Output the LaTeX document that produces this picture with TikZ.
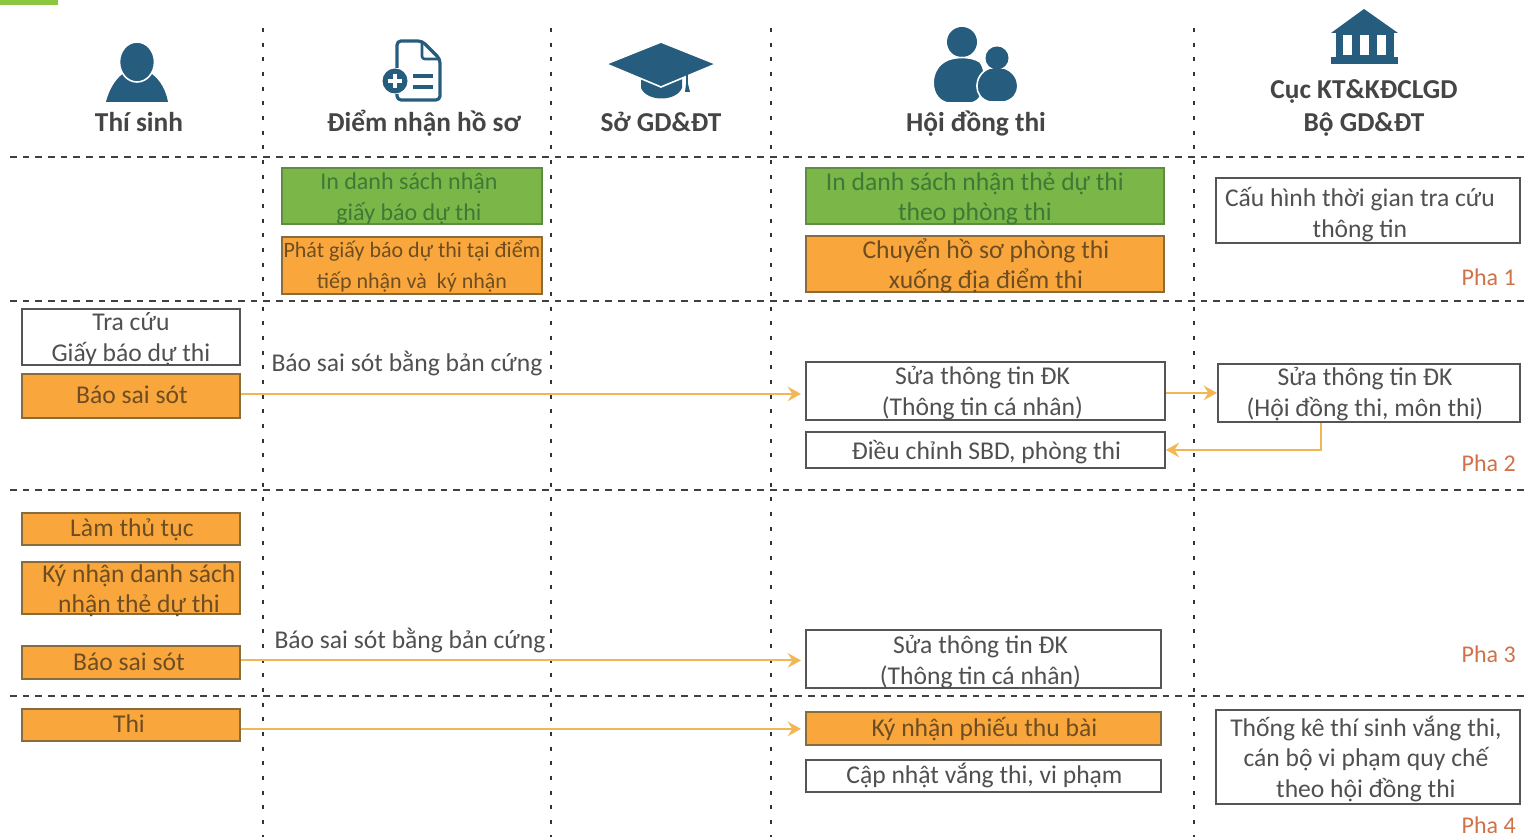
\documentclass[tikz,border=0pt]{standalone}
\usepackage{fontspec}
\setmainfont{Carlito}
\usepackage{xcolor}
\usetikzlibrary{positioning, arrows.meta, calc}
\definecolor{iconblue}{HTML}{265C7E}
\definecolor{headgray}{HTML}{454545}
\definecolor{textgray}{HTML}{505050}
\definecolor{linegray}{HTML}{555555}
\definecolor{topgreen}{HTML}{8CC63F}
\definecolor{boxgreen}{HTML}{7AB648}
\definecolor{edgegreen}{HTML}{5E8C42}
\definecolor{textgreen}{HTML}{3E7A35}
\definecolor{boxorange}{HTML}{F9A73C}
\definecolor{edgeorange}{HTML}{8A6B3C}
\definecolor{textorange}{HTML}{6E4D22}
\definecolor{arroworange}{HTML}{F2B655}
\definecolor{phared}{HTML}{D0714A}
\def\raster{0.75pt}
\def\bodysize{\fontsize{19.2}{23}\selectfont}
\def\smallsize{\fontsize{18}{23}\selectfont}
\def\tinysize{\fontsize{16.5}{23}\selectfont}
\tikzset{
    header/.style={font=\fontsize{20.5}{24.5}\selectfont\bfseries, text=headgray, align=center, inner sep=0},
    plainbox/.style={draw=linegray, line width=1.4pt, fill=white, anchor=north west, inner sep=0, xshift=-0.75pt, yshift=0.75pt},
    greenbox/.style={plainbox, draw=edgegreen, fill=boxgreen},
    orangebox/.style={plainbox, draw=edgeorange, fill=boxorange},
    plaintext/.style={text=textgray, align=center, inner sep=0},
    greentext/.style={plaintext, text=textgreen},
    orangetext/.style={plaintext, text=textorange},
    phalabel/.style={text=phared, anchor=east, inner sep=0, font=\smallsize},
    errorlabel/.style={text=textgray, inner sep=0, font=\bodysize},
    flow/.style={draw=arroworange, line width=1.4pt, -{Stealth[length=10pt,width=11pt,inset=3.5pt]}},
    icon/.style={fill=iconblue, draw=none},
    iconcut/.style={fill=iconblue, draw=white, line width=1.2pt},
}
\begin{document}
\begin{tikzpicture}[x=\raster,y=-\raster]
    \useasboundingbox (0,0) rectangle (1529,837);
    \fill[topgreen] (0,0) rectangle (58,5);

    % draw vertical lines
    \foreach \x in {263,551,771,1194}
    {
        \draw[black!80, line width=1.3pt, dash pattern=on 3pt off 8pt] (\x,28) -- (\x,837);
    }

    % draw horizontal lines
    \foreach \y in {157,301,490,696}
    {
        \draw[black!75, line width=1.1pt, dash pattern=on 5pt off 4.5pt] (10,\y) -- (1529,\y);
    }

    % headers
    \foreach \name/\a/\b/\txt in {
        hthisinh/139/122/{Thí sinh},
        hdiem/424/123/{Điểm nhận hồ sơ},
        hso/661/122/{Sở GD\&ĐT},
        hhoidong/976/124/{Hội đồng thi},
        hcuc/1364/108/{Cục KT\&KĐCLGD\\Bộ GD\&ĐT}}{

        \node[header] (\name) at (\a,\b) {\txt};
    }

    % person
    \fill[icon] (106,102) .. controls (110,86) and (118,77) .. (125,72)
        -- (149,72)
        .. controls (157,77) and (165,86) .. (168,102) -- cycle;
    \draw[iconcut] (137,62) ellipse (17.5 and 20);

    % document
    \draw[iconblue, line width=2.4pt, line join=round, rounded corners=3pt]
        (397,68) -- (397,41) -- (422,41) -- (440,59) -- (440,100) -- (397,100) -- (397,94);
    \draw[iconblue, line width=2pt, line join=round, rounded corners=2pt] (422,41) -- (422,59) -- (440,59);
    \fill[icon] (395,81) circle (12.5);
    \draw[white, line width=2.4pt] (388,81) -- (402,81) (395,74) -- (395,88);
    \draw[iconblue, line width=2.8pt] (413,76) -- (433,76) (413,87) -- (433,87);

    % cap
    \fill[icon] (641,76) -- (682,76) -- (682,88)
        .. controls (676,102) and (647,102) .. (641,88) -- cycle;
    \draw[iconcut] (606,64) -- (661,42) -- (716,64) -- (661,87) -- cycle;
    \draw[iconblue, line width=1.6pt] (687,74) -- (687,90);
    \fill[icon] (685,92) -- (686,84) -- (688,84) -- (690,92) -- cycle;

    % people
    \fill[icon] (962,42) circle (15);
    \draw[iconcut] (948,103) .. controls (930,100) and (928,72) .. (944,62)
        .. controls (952,56) and (972,56) .. (980,62)
        .. controls (988,72) and (986,100) .. (972,103) -- cycle;
    \draw[iconcut] (990,102) .. controls (972,98) and (973,74) .. (990,68)
        -- (1004,68) .. controls (1022,74) and (1023,98) .. (1004,102) -- cycle;
    \fill[icon] (997,58) circle (11.5);

    % bank
    \fill[icon] (1331,33) -- (1364,9) -- (1398,33) -- cycle;
    \fill[icon] (1336,33) rectangle (1394,58);
    \foreach \x in {1343,1360,1377}
    {
        \fill[white] (\x,35) rectangle (\x+9,55);
    }
    \fill[icon] (1331,57) rectangle (1398,64);

    % boxes
    \foreach \name/\a/\b/\w/\h/\co/\dx/\dy/\fnt/\txt in {
        ingiay/282/168/260/56/green/-4/2/\smallsize/{In danh sách nhận\\giấy báo dự thi},
        phat/282/237/260/57/orange/-1/0/\tinysize/{Phát giấy báo dự thi tại điểm\\tiếp nhận và\ \ ký nhận},
        inthe/806/168/358/56/green/-11/2/\bodysize/{In danh sách nhận thẻ dự thi\\theo phòng thi},
        chuyen/806/236/358/56/orange/0/1/\bodysize/{Chuyển hồ sơ phòng thi\\xuống địa điểm thi},
        cauhinh/1216/178/304/65/plain/-9/3/\bodysize/{Cấu hình thời gian tra cứu\\thông tin},
        tracuu/22/309/218/56/plain/-1/1/\bodysize/{Tra cứu\\Giấy báo dự thi},
        baosai/22/374/218/44/orange/0/-2/\bodysize/{Báo sai sót},
        suacn/806/362/359/58/plain/-4/1/\bodysize/{Sửa thông tin ĐK\\(Thông tin cá nhân)},
        suahd/1218/364/302/58/plain/-5/0/\bodysize/{Sửa thông tin ĐK\\(Hội đồng thi, môn thi)},
        dieuchinh/806/432/359/36/plain/0/1/\bodysize/{Điều chỉnh SBD, phòng thi},
        lamthutuc/22/513/218/32/orange/0/0/\bodysize/{Làm thủ tục},
        kynhan/22/562/218/52/orange/7/2/\bodysize/{Ký nhận danh sách\\nhận thẻ dự thi},
        baosaiba/22/646/218/33/orange/-3/-2/\bodysize/{Báo sai sót},
        suaba/806/630/355/58/plain/-4/2/\bodysize/{Sửa thông tin ĐK\\(Thông tin cá nhân)},
        thi/22/709/218/32/orange/-3/-2/\bodysize/{Thi},
        kyphieu/806/712/355/33/orange/0/0/\bodysize/{Ký nhận phiếu thu bài},
        capnhat/806/760/355/32/plain/0/-1/\bodysize/{Cập nhật vắng thi, vi phạm},
        thongke/1216/710/304/94/plain/-3/1/\bodysize/{Thống kê thí sinh vắng thi,\\cán bộ vi phạm quy chế\\theo hội đồng thi}}{

        \node[\co box, minimum width=\w*\raster, minimum height=\h*\raster] (\name) at (\a,\b) {};
        \node[\co text, font=\fnt] (\name text) at ([shift={(\dx*\raster+0.75pt,-\dy*\raster-0.75pt)}]\name.center) {\txt};
    }

    % labels
    \node[errorlabel] (saihai) at (407,363) {Báo sai sót bằng bản cứng};
    \node[errorlabel] (saiba) at (410,640) {Báo sai sót bằng bản cứng};
    \foreach \name/\b/\txt in {pha1/277/Pha 1, pha2/463/Pha 2, pha3/654/Pha 3, pha4/825/Pha 4}{
        \node[phalabel] (\name) at (1516,\b) {\txt};
    }

    % arrows
    \draw[flow, shorten >=3pt] ([yshift=1.5pt]baosai.east) -- ([yshift=1.5pt]baosai.east -| suacn.west);
    \draw[flow] ([yshift=-1.5pt]suacn.east) -- ([yshift=-1.5pt]suacn.east -| suahd.west);
    \draw[flow] ([xshift=-48*\raster]suahd.south) |- (dieuchinh.east);
    \draw[flow, shorten >=3pt] ([yshift=1.5pt]baosaiba.east) -- ([yshift=1.5pt]baosaiba.east -| suaba.west);
    \draw[flow, shorten >=3pt] ([yshift=-3pt]thi.east) -- ([yshift=-3pt]thi.east -| kyphieu.west);
\end{tikzpicture}
\end{document}
